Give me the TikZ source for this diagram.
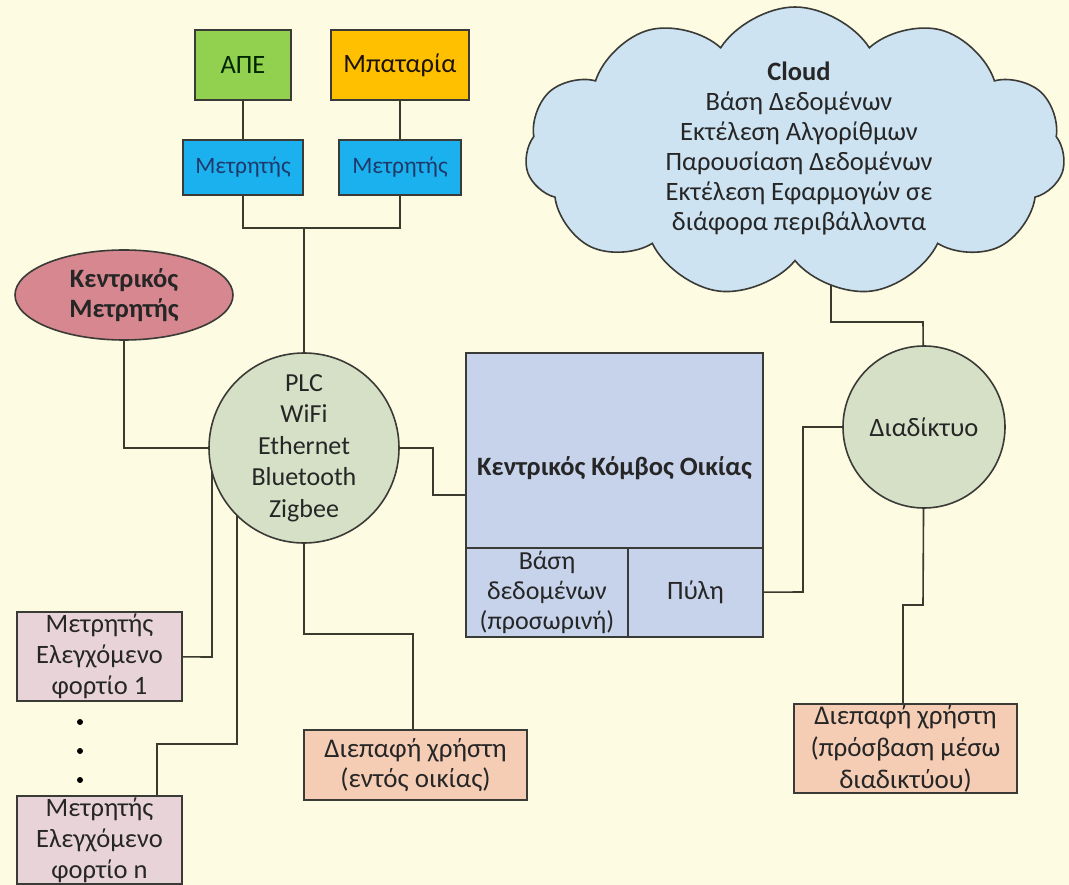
\documentclass[tikz,border=0pt]{standalone}
\usepackage{fontspec}
\setmainfont{Carlito}
\usetikzlibrary{shapes.geometric,shapes.symbols,calc}
\pgfdeclarelayer{bgzero}
\pgfdeclarelayer{background}
\pgfsetlayers{bgzero,background,main}
\definecolor{bgc}{HTML}{FDFBE1}
\definecolor{bord}{HTML}{3A3A36}
\definecolor{conncol}{HTML}{3A3A2E}
\definecolor{txt}{HTML}{262626}
\definecolor{apec}{HTML}{92D050}
\definecolor{batc}{HTML}{FFC000}
\definecolor{meterc}{HTML}{1BB1EE}
\definecolor{metertxt}{HTML}{1F3A6A}
\definecolor{kmc}{HTML}{D6878F}
\definecolor{circc}{HTML}{D5E0C6}
\definecolor{hubc}{HTML}{C6D3EB}
\definecolor{cloudc}{HTML}{CDE3F1}
\definecolor{loadc}{HTML}{E8D4D8}
\definecolor{uic}{HTML}{F5CDB5}
\begin{document}
\begin{tikzpicture}[x=1pt,y=-1pt,
  every node/.style={font=\fontsize{26.5}{31}\selectfont, text=txt, align=center, inner sep=0pt},
  box/.style={draw=bord, line width=1.6pt, rectangle},
  conn/.style={draw=conncol, line width=1.6pt}]
\begin{pgfonlayer}{bgzero}
\fill[bgc] (0,0) rectangle (1069,885);
\end{pgfonlayer}
\useasboundingbox (0,0) rectangle (1069,885);

% top sources and meters
\node[box, fill=apec, minimum width=96, minimum height=70, text=black!85!green] (ape) at (243,65) {ΑΠΕ};
\node[box, fill=batc, minimum width=138, minimum height=70, text=black!85!brown] (bat) at (400,65) {Μπαταρία};
\node[box, fill=meterc, minimum width=120, minimum height=55, text=metertxt, font=\fontsize{23.5}{26}\selectfont] (m1) at (243,167.5) {Μετρητής};
\node[box, fill=meterc, minimum width=122, minimum height=55, text=metertxt, font=\fontsize{23.5}{26}\selectfont] (m2) at (400,167.5) {Μετρητής};

% central meter ellipse
\node[ellipse, draw=bord, line width=1.6pt, fill=kmc, minimum width=218, minimum height=90, font=\fontsize{26.5}{30}\bfseries] (km) at (124,295) {Κεντρικός\\Μετρητής};

% communication circle
\node[circle, draw=bord, line width=1.6pt, fill=circc, minimum size=190, font=\fontsize{26}{31.5}\selectfont] (plc) at (304,448) {PLC\\WiFi\\Ethernet\\Bluetooth\\Zigbee};

% hub
\node[box, fill=hubc, minimum width=297, minimum height=195] (hub) at (614.5,450.5) {};
\node[font=\fontsize{26.5}{31}\bfseries] (hubtitle) at (614.5,468) {Κεντρικός Κόμβος Οικίας};
\node[box, fill=hubc, minimum width=162, minimum height=89, font=\fontsize{26}{30}\selectfont] (db) at (547,592.5) {Βάση\\δεδομένων\\(προσωρινή)};
\node[box, fill=hubc, minimum width=135, minimum height=89] (gw) at (695.5,592.5) {Πύλη};

% internet
\node[circle, draw=bord, line width=1.6pt, fill=circc, minimum size=162] (inet) at (924,427) {Διαδίκτυο};

% cloud
\node[cloud, draw=bord, line width=1.6pt, fill=cloudc, cloud puffs=11, cloud puff arc=115, aspect=1.85, minimum width=540, minimum height=290] (cloud) at (795,152) {};
\node[font=\fontsize{26.5}{30}\selectfont] (cloudtxt) at (799,148) {\textbf{Cloud}\\Βάση Δεδομένων\\Εκτέλεση Αλγορίθμων\\Παρουσίαση Δεδομένων\\Εκτέλεση Εφαρμογών σε\\διάφορα περιβάλλοντα};

% loads
\node[box, fill=loadc, minimum width=165, minimum height=89] (load1) at (99.5,656.5) {Μετρητής\\Ελεγχόμενο\\φορτίο 1};
\node[box, fill=loadc, minimum width=165, minimum height=88] (loadn) at (99.5,840) {Μετρητής\\Ελεγχόμενο\\φορτίο n};
\foreach \yy/\nm in {722/d1,751/d2,780/d3}
  \node[circle, fill=black, minimum size=6] (\nm) at (80,\yy) {};

% user interfaces
\node[box, fill=uic, minimum width=223, minimum height=70, font=\fontsize{27}{30}\selectfont] (ui1) at (415.5,765) {Διεπαφή χρήστη\\(εντός οικίας)};
\node[box, fill=uic, minimum width=223, minimum height=89, font=\fontsize{27}{32}\selectfont] (ui2) at (905.5,748.5) {Διεπαφή χρήστη\\(πρόσβαση μέσω\\διαδικτύου)};

% bend coordinates
\coordinate (bus) at (304,228);
\coordinate (mb1) at (243,228);
\coordinate (mb2) at (400,228);
\coordinate (h1) at (433,448);
\coordinate (h2) at (433,495);
\coordinate (g1) at (803,592);
\coordinate (g2) at (803,427);
\coordinate (c1) at (831,322);
\coordinate (c2) at (923,322);
\coordinate (i1) at (923,605);
\coordinate (i2) at (903,605);
\coordinate (l1) at (212,657);
\coordinate (n1) at (157,744);
\coordinate (n2) at (237,744);
\coordinate (u1) at (304,634);
\coordinate (u2) at (413,634);

\begin{pgfonlayer}{background}
\draw[conn] (ape) -- (m1);
\draw[conn] (bat) -- (m2);
\draw[conn] (m1) -- (mb1) -- (mb2) -- (m2);
\draw[conn] (bus) -- (plc);
\draw[conn] (km) |- (plc);
\draw[conn] (plc) -- (h1) -- (h2) -- (h2 -| hub.center);
\draw[conn] (gw) -- (g1) -- (g2) -- (inet);
\draw[conn] (c1 |- cloud.center) -- (c1) -- (c2) -- (inet);
\draw[conn] (inet) -- (i1) -- (i2) -- (i2 |- ui2.center);
\draw[conn] (load1) -- (l1) -- (l1 |- plc.center);
\draw[conn] (n1 |- loadn.center) -- (n1) -- (n2) -- (n2 |- plc.center);
\draw[conn] (plc) -- (u1) -- (u2) -- (u2 |- ui1.center);
\end{pgfonlayer}
\end{tikzpicture}
\end{document}
